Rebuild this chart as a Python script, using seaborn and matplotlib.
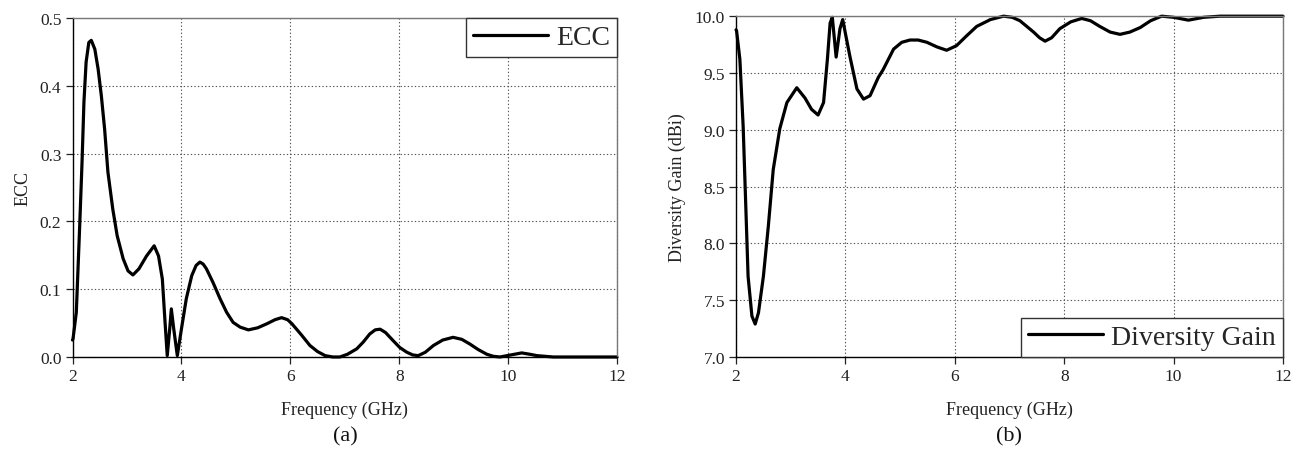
import matplotlib
matplotlib.use("Agg")
import matplotlib.pyplot as plt
import seaborn as sns
import pandas as pd

# ---- data ----
ecc_freq = [2.0, 2.01, 2.07, 2.13, 2.175, 2.21, 2.25, 2.30, 2.345, 2.41, 2.47, 2.53, 2.59, 2.65,
            2.74, 2.82, 2.93, 3.02, 3.11, 3.22, 3.36, 3.50, 3.58, 3.65, 3.70, 3.74, 3.785, 3.815,
            3.86, 3.925, 4.0, 4.09, 4.19, 4.27, 4.34, 4.40, 4.46, 4.58, 4.71, 4.83, 4.95, 5.08,
            5.23, 5.40, 5.57, 5.72, 5.84, 5.95, 6.03, 6.20, 6.36, 6.50, 6.64, 6.78, 6.91, 7.05,
            7.22, 7.34, 7.46, 7.56, 7.65, 7.75, 7.89, 8.01, 8.14, 8.25, 8.35, 8.48, 8.63, 8.80,
            8.99, 9.15, 9.30, 9.45, 9.61, 9.73, 9.85, 10.05, 10.25, 10.40, 10.53, 10.83, 12.0]
ecc_vals = [0.025, 0.027, 0.066, 0.189, 0.287, 0.376, 0.435, 0.464, 0.467, 0.454, 0.425, 0.385,
            0.336, 0.273, 0.218, 0.179, 0.145, 0.127, 0.121, 0.130, 0.149, 0.164, 0.149, 0.115,
            0.051, 0.002, 0.041, 0.071, 0.041, 0.002, 0.041, 0.086, 0.120, 0.135, 0.140, 0.137,
            0.130, 0.110, 0.086, 0.066, 0.051, 0.044, 0.040, 0.043, 0.049, 0.055, 0.058, 0.055,
            0.049, 0.033, 0.017, 0.008, 0.002, 0.0, 0.0, 0.004, 0.012, 0.022, 0.034, 0.040,
            0.041, 0.036, 0.024, 0.014, 0.007, 0.003, 0.002, 0.007, 0.017, 0.025, 0.029, 0.026,
            0.019, 0.011, 0.004, 0.001, 0.0, 0.003, 0.006, 0.004, 0.002, 0.0, 0.0]

dg_freq = [2.0, 2.01, 2.07, 2.13, 2.18, 2.22, 2.29, 2.35, 2.41, 2.50, 2.59, 2.68, 2.80, 2.93,
           3.11, 3.26, 3.38, 3.50, 3.60, 3.67, 3.72, 3.76, 3.83, 3.90, 3.95, 4.08, 4.21, 4.33,
           4.45, 4.60, 4.69, 4.88, 5.03, 5.18, 5.33, 5.49, 5.67, 5.85, 6.03, 6.20, 6.40, 6.65,
           6.89, 7.05, 7.19, 7.44, 7.55, 7.65, 7.77, 7.92, 8.12, 8.32, 8.48, 8.65, 8.84, 9.02,
           9.20, 9.39, 9.58, 9.78, 10.0, 10.27, 10.55, 10.85, 12.0]
dg_vals = [9.88, 9.87, 9.62, 9.03, 8.30, 7.71, 7.36, 7.29, 7.39, 7.71, 8.15, 8.65, 9.01, 9.24,
           9.37, 9.28, 9.18, 9.13, 9.24, 9.62, 9.94, 9.99, 9.64, 9.89, 9.97, 9.65, 9.36, 9.27,
           9.30, 9.46, 9.53, 9.71, 9.77, 9.79, 9.79, 9.77, 9.73, 9.70, 9.74, 9.82, 9.91, 9.97,
           10.0, 9.99, 9.96, 9.86, 9.81, 9.78, 9.81, 9.89, 9.95, 9.98, 9.96, 9.91, 9.86, 9.84,
           9.86, 9.90, 9.96, 10.0, 9.99, 9.965, 9.99, 10.0, 10.0]

x_ticks = [2, 4, 6, 8, 10, 12]
ecc_ticks = [0.0, 0.1, 0.2, 0.3, 0.4, 0.5]
dg_ticks = [7.0, 7.5, 8.0, 8.5, 9.0, 9.5, 10.0]

sns.set_style("ticks")
plt.rcParams['font.family'] = ['Liberation Serif', 'DejaVu Serif']

fig = plt.figure(figsize=(12.97, 4.52), dpi=100)
ax1 = fig.add_axes([0.0559, 0.208, 0.4198, 0.750])
ax2 = fig.add_axes([0.5675, 0.208, 0.4217, 0.754])

df1 = pd.DataFrame({"Frequency": ecc_freq, "ECC": ecc_vals})
df2 = pd.DataFrame({"Frequency": dg_freq, "Diversity Gain": dg_vals})

sns.lineplot(data=df1, x="Frequency", y="ECC", ax=ax1, color="black", linewidth=2.3,
             label="ECC", sort=False, clip_on=False, solid_joinstyle="round",
             solid_capstyle="round")
sns.lineplot(data=df2, x="Frequency", y="Diversity Gain", ax=ax2, color="black", linewidth=2.3,
             label="Diversity Gain", sort=False, clip_on=False, solid_joinstyle="round",
             solid_capstyle="round")

for ax, yt, ylab, lim in [(ax1, ecc_ticks, "ECC", (0, 0.5)),
                          (ax2, dg_ticks, "Diversity Gain (dBi)", (7.0, 10.0))]:
    ax.set_xlim(2, 12)
    ax.set_ylim(*lim)
    ax.set_xticks(x_ticks)
    ax.set_xticklabels([str(t) for t in x_ticks])
    ax.set_yticks(yt)
    ax.set_yticklabels([f"{t:.1f}" for t in yt])
    ax.grid(True, linestyle=(0, (1.2, 2)), color="#555555", linewidth=0.8)
    ax.tick_params(axis='both', direction='out', length=5, width=0.9, labelsize=12.5,
                   colors="#222222", pad=3)
    ax.set_xlabel("Frequency (GHz)", fontsize=13, labelpad=12, color="#222222")
    ax.set_ylabel(ylab, fontsize=13, labelpad=6, color="#222222")
    for s in ['left', 'bottom']:
        ax.spines[s].set_color("black")
        ax.spines[s].set_linewidth(1.0)
    for s in ['top', 'right']:
        ax.spines[s].set_color("#777777")
        ax.spines[s].set_linewidth(1.0)
        ax.spines[s].set_visible(True)

leg1 = ax1.legend(loc="upper right", borderaxespad=0, fancybox=False, frameon=True,
                  fontsize=20, handlelength=2.7, handletextpad=0.3, borderpad=0.25,
                  edgecolor="#333333", framealpha=1)
leg2 = ax2.legend(loc="lower right", borderaxespad=0, fancybox=False, frameon=True,
                  fontsize=20, handlelength=2.7, handletextpad=0.3, borderpad=0.25,
                  edgecolor="#333333", framealpha=1)
for leg in (leg1, leg2):
    leg.get_frame().set_linewidth(1.0)
    for line in leg.get_lines():
        line.set_linewidth(2.3)

fig.text(0.266, 0.033, "(a)", fontsize=16, ha="center", va="center", color="#111111")
fig.text(0.778, 0.033, "(b)", fontsize=16, ha="center", va="center", color="#111111")

fig.savefig("out.png", dpi=100)
